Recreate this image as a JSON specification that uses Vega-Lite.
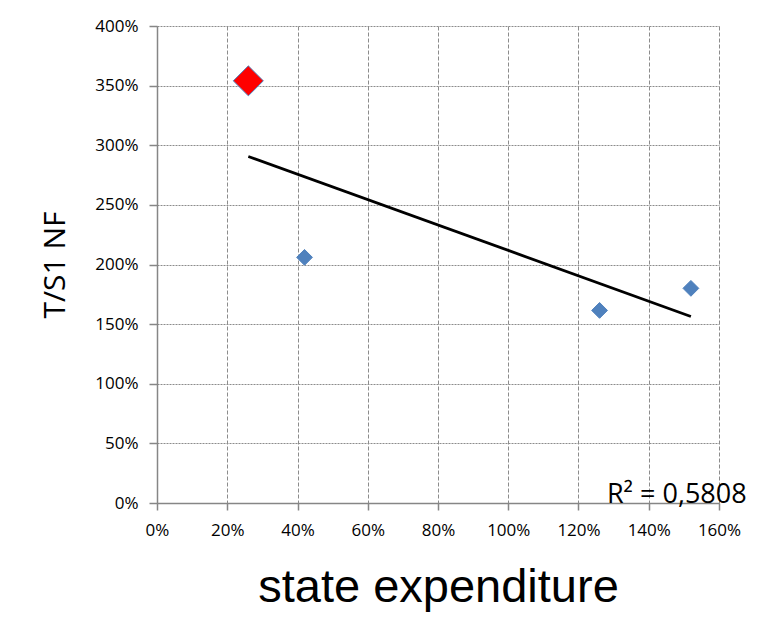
{
  "$schema": "https://vega.github.io/schema/vega-lite/v6.json",
  "width": 562,
  "height": 477,
  "autosize": "none",
  "padding": {"left": 157, "top": 26, "right": 44, "bottom": 115},
  "background": "white",
  "config": {
    "view": {"stroke": null},
    "font": "Open Sans"
  },
  "datasets": {
    "points": [
      {"expenditure": 0.26, "ratio": 3.54, "group": "highlight"},
      {"expenditure": 0.42, "ratio": 2.06, "group": "other"},
      {"expenditure": 1.26, "ratio": 1.615, "group": "other"},
      {"expenditure": 1.52, "ratio": 1.80, "group": "other"}
    ],
    "trend": [
      {"expenditure": 0.26, "ratio": 2.906},
      {"expenditure": 1.52, "ratio": 1.564}
    ],
    "rsq": [
      {"expenditure": 1.281, "ratio": 0, "label": "R² = 0,5808"}
    ]
  },
  "encoding": {
    "x": {
      "field": "expenditure",
      "type": "quantitative",
      "scale": {"domain": [0, 1.6], "nice": false},
      "axis": {
        "title": "state expenditure",
        "values": [0, 0.2, 0.4, 0.6, 0.8, 1.0, 1.2, 1.4, 1.6],
        "format": ".0%",
        "labelFlush": false,
        "labelOverlap": false,
        "grid": true,
        "gridColor": "#8c8c8c",
        "gridDash": [4, 2],
        "gridWidth": 1,
        "domainColor": "#868686",
        "domainWidth": 1.5,
        "tickColor": "#868686",
        "tickSize": 7,
        "tickWidth": 1.5,
        "labelFontSize": 17,
        "labelColor": "#000000",
        "labelPadding": 12,
        "labelFont": "Open Sans",
        "titleFont": "Liberation Sans",
        "titleFontSize": 47,
        "titleFontWeight": "normal",
        "titleColor": "#000000",
        "titlePadding": 26
      }
    },
    "y": {
      "field": "ratio",
      "type": "quantitative",
      "scale": {"domain": [0, 4], "nice": false},
      "axis": {
        "title": "T/S1 NF",
        "values": [0, 0.5, 1, 1.5, 2, 2.5, 3, 3.5, 4],
        "format": ".0%",
        "labelFlush": false,
        "labelOverlap": false,
        "grid": true,
        "gridColor": "#8c8c8c",
        "gridDash": [2, 1],
        "gridWidth": 1,
        "domainColor": "#868686",
        "domainWidth": 1.5,
        "tickColor": "#868686",
        "tickSize": 8,
        "tickWidth": 1.5,
        "labelFontSize": 17,
        "labelColor": "#000000",
        "labelPadding": 11,
        "labelFont": "Open Sans",
        "titleFont": "Open Sans",
        "titleFontSize": 30,
        "titleFontWeight": "normal",
        "titleColor": "#000000",
        "titlePadding": 24
      }
    }
  },
  "layer": [
    {
      "data": {"name": "trend"},
      "mark": {"type": "line", "color": "#000000", "strokeWidth": 2.8}
    },
    {
      "data": {"name": "points"},
      "mark": {"type": "point", "shape": "diamond", "filled": true, "opacity": 1, "stroke": "#4f81bd", "strokeWidth": 1},
      "encoding": {
        "color": {
          "field": "group",
          "type": "nominal",
          "scale": {"domain": ["other", "highlight"], "range": ["#4f81bd", "#ff0000"]},
          "legend": null
        },
        "size": {
          "field": "group",
          "type": "ordinal",
          "scale": {"domain": ["other", "highlight"], "range": [250, 900]},
          "legend": null
        }
      }
    },
    {
      "data": {"name": "rsq"},
      "mark": {"type": "text", "align": "left", "baseline": "alphabetic", "fontSize": 27, "font": "Open Sans", "color": "#000000"},
      "encoding": {
        "text": {"field": "label", "type": "nominal"}
      }
    }
  ]
}
